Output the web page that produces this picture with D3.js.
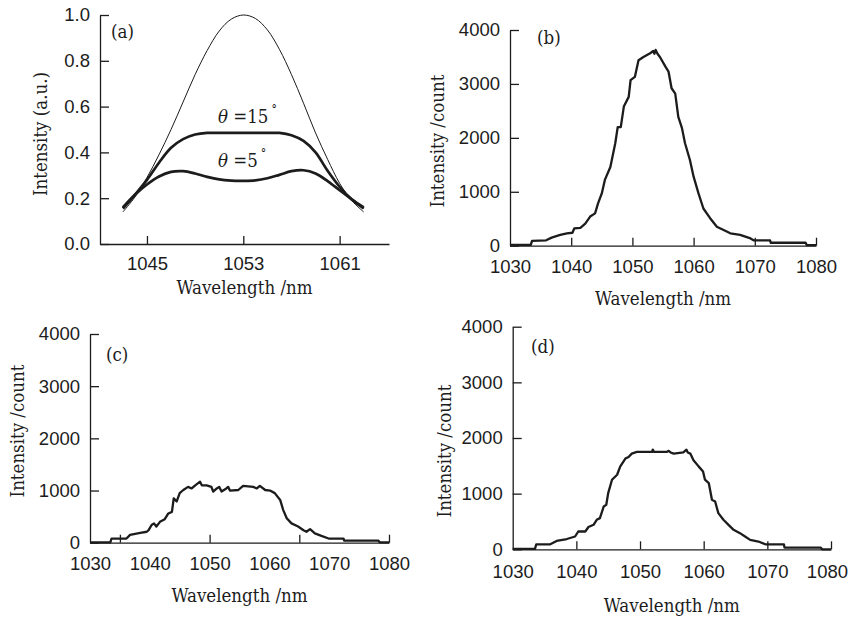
<!DOCTYPE html>
<html><head><meta charset="utf-8">
<script src="https://cdn.jsdelivr.net/npm/d3@7"></script>
<style>
body{margin:0;background:#fff;}
svg{display:block;font-family:"DejaVu Serif Condensed","DejaVu Serif",serif;font-stretch:condensed;}
</style></head><body>
<svg id="chart" width="849" height="617"></svg>
<script>
// ---------- Panel (a) data ----------
const aWavelength = [1043,1044,1045,1046,1047,1048,1049,1050,1051,1052,1053,1054,1055,1056,1057,1058,1059,1060,1061,1062,1063];
const aReference  = [0.14,0.205,0.29,0.39,0.50,0.62,0.74,0.845,0.93,0.982,1.0,0.985,0.935,0.85,0.74,0.615,0.485,0.37,0.265,0.19,0.14];
const aTheta15    = [0.155,0.215,0.28,0.355,0.42,0.458,0.478,0.485,0.485,0.485,0.485,0.485,0.485,0.485,0.475,0.45,0.40,0.32,0.25,0.195,0.155];
const aTheta5     = [0.16,0.215,0.26,0.295,0.315,0.318,0.308,0.293,0.282,0.277,0.276,0.278,0.287,0.302,0.318,0.322,0.308,0.275,0.235,0.195,0.16];
const aXTicks = [1045,1053,1061];
const aYTicks = [0,0.2,0.4,0.6,0.8,1.0];

// ---------- Panels (b)(c)(d) data ----------
const bWavelength = [1030,1033.4,1033.6,1035.9,1036.8,1038.2,1039.3,1040.2,1040.5,1041.5,1042.3,1043.1,1043.9,1044.4,1045,1045.5,1046.4,1047.2,1047.6,1048.1,1048.6,1049.4,1049.7,1050.4,1051,1051.8,1052.9,1053.4,1053.6,1053.8,1054.1,1054.5,1055.4,1055.9,1056.4,1057,1057.5,1058.1,1058.6,1059.4,1060,1060.8,1061.6,1062.7,1063.8,1064.9,1066,1067.6,1069.3,1069.8,1072.5,1072.6,1078.3,1078.5,1080];
const bCount = [15,15,90,100,150,200,230,240,320,330,410,540,600,790,970,1220,1460,1900,2200,2200,2580,2760,3070,3130,3440,3500,3570,3610,3560,3630,3560,3500,3320,3230,2920,2820,2390,2180,1900,1590,1280,970,690,510,350,290,230,200,135,100,100,55,55,10,10];

const cWavelength = [1030,1033.4,1033.6,1036.1,1036.7,1038.4,1039.5,1039.8,1040.3,1040.7,1041.1,1041.7,1042.5,1043.1,1043.7,1044,1044.5,1045,1045.6,1046.4,1047,1047.6,1048.4,1048.7,1049.5,1050.3,1050.6,1051.2,1051.6,1052,1052.8,1053.1,1053.4,1054.8,1055.6,1057.3,1057.9,1058.4,1059.3,1060.1,1060.9,1061.8,1062.3,1062.9,1063.7,1064.8,1065.7,1066.2,1066.8,1067.6,1068.7,1069.9,1072.4,1072.5,1078.2,1078.5,1080];
const cCount = [8,8,80,80,150,190,210,240,340,370,310,400,450,560,590,850,790,950,1010,1070,1040,1100,1170,1100,1100,1070,980,1040,1070,980,1040,1070,1000,1010,1090,1070,1040,1090,1010,1000,950,820,630,470,370,310,240,210,260,180,130,80,80,40,40,5,5];

const dWavelength = [1030,1033.5,1033.7,1035.9,1036.9,1038.5,1039.8,1040.3,1041.4,1041.9,1042.7,1043.2,1043.7,1044.3,1044.7,1045,1045.6,1046.4,1046.9,1047.7,1048.2,1048.7,1049.5,1051.9,1052,1052.2,1054.2,1054.5,1054.8,1055.3,1056.8,1057.3,1057.5,1057.9,1058.4,1059.2,1059.9,1060.2,1060.8,1061.3,1061.8,1062.3,1063.1,1063.9,1064.7,1065.7,1066.5,1067.3,1068.6,1069.7,1072.6,1072.7,1078.4,1078.6,1080];
const dCount = [8,8,90,90,150,185,230,320,320,400,440,530,560,770,800,1010,1250,1340,1490,1630,1660,1720,1750,1750,1790,1750,1750,1770,1740,1720,1740,1790,1740,1720,1600,1490,1400,1250,1190,890,860,650,530,440,350,290,230,170,140,90,90,30,30,0,0];

const spectrumXLabels = [1030,1040,1050,1060,1070,1080];
const spectrumYTicks = [0,1000,2000,3000,4000];
const bXTicks = [1040,1050,1060,1070,1080];
const cXTicks = [1035,1050,1065,1080];
const dXTicks = [1040,1050,1060,1070,1080];

const xTitle = "Wavelength /nm";
const yTitleA = "Intensity (a.u.)";
const yTitleS = "Intensity /count";

// ---------- drawing ----------
const svg = d3.select("#chart");
svg.append("rect").attr("width",849).attr("height",617).attr("fill","#fff");
const INK = "#1c1c1c";
const FS = 18.5;

function zip(xs, ys){ const n=Math.min(xs.length, ys.length); return d3.range(n).map(i=>({x:xs[i], y:ys[i]})); }

function drawAxes(g, x, y, o){
  const [x0,x1] = x.range(), [y0,y1] = y.range();
  const ya = d3.axisLeft(y).tickValues(o.yTicks).tickSizeInner(-9).tickSizeOuter(0).tickPadding(o.yPad).tickFormat(o.yFmt);
  const yg = g.append("g").attr("transform",`translate(${x0},0)`).call(ya);
  const xm = d3.axisBottom(x).tickValues(o.xTickMarks).tickSizeInner(-8).tickSizeOuter(0).tickFormat("");
  const xg = g.append("g").attr("transform",`translate(0,${y0})`).call(xm);
  const xl = d3.axisBottom(x).tickValues(o.xLabels).tickSize(0).tickPadding(o.xPad).tickFormat(d3.format("d"));
  const xlg = g.append("g").attr("transform",`translate(0,${y0})`).call(xl);
  xlg.select(".domain").remove();
  [yg,xg,xlg].forEach(s=>{
    s.selectAll("path.domain").attr("stroke",INK).attr("stroke-width",1.3);
    s.selectAll(".tick line").attr("stroke",INK).attr("stroke-width",1.3);
    s.selectAll("text").attr("font-family",null).attr("font-size",FS).attr("fill",INK);
  });
  g.append("text").attr("x",(x0+x1)/2 + (o.xTitleDx||0)).attr("y",o.xTitleY).attr("text-anchor","middle")
    .attr("font-size",FS).attr("fill",INK).text(xTitle);
  g.append("text").attr("transform",`translate(${o.yTitleX},${o.yTitleY}) rotate(-90)`).attr("text-anchor","middle")
    .attr("font-size",FS).attr("fill",INK).text(o.yTitle);
  g.append("text").attr("x",o.tagX).attr("y",o.tagY).attr("font-size",FS).attr("fill",INK).text(o.tag);
}

// Panel (a)
(function(){
  const g = svg.append("g");
  const x = d3.scaleLinear().domain([1041.1,1065.1]).range([100,389]);
  const y = d3.scaleLinear().domain([0,1]).range([244,15]);
  drawAxes(g,x,y,{yTicks:aYTicks,yFmt:d3.format(".1f"),yPad:10,xTickMarks:aXTicks,xLabels:aXTicks,xPad:13,
    xTitleY:294,yTitle:yTitleA,yTitleX:47,yTitleY:134,tag:"(a)",tagX:111,tagY:38});
  const line = d3.line().x(d=>x(d.x)).y(d=>y(d.y)).curve(d3.curveCatmullRom.alpha(0.5));
  g.append("path").attr("d",line(zip(aWavelength,aReference))).attr("fill","none").attr("stroke",INK).attr("stroke-width",1);
  g.append("path").attr("d",line(zip(aWavelength,aTheta15))).attr("fill","none").attr("stroke",INK).attr("stroke-width",2.7);
  g.append("path").attr("d",line(zip(aWavelength,aTheta5))).attr("fill","none").attr("stroke",INK).attr("stroke-width",2.7);
  function thetaLabel(xp, yp, val){
    const t = g.append("text").attr("x",xp).attr("y",yp).attr("font-size",FS).attr("fill",INK);
    t.append("tspan").attr("font-style","italic").text("θ");
    t.append("tspan").text(" =" + val);
    t.append("tspan").attr("font-size",12).attr("dy",-9).attr("dx",3).text("°");
  }
  thetaLabel(218,123,"15");
  thetaLabel(218,167,"5");
})();

function spectrum(o, xs, ys){
  const g = svg.append("g");
  const x = d3.scaleLinear().domain([1030,1080]).range(o.xr);
  const y = d3.scaleLinear().domain([0,4000]).range(o.yr);
  drawAxes(g,x,y,{yTicks:spectrumYTicks,yFmt:d3.format("d"),yPad:10,xTickMarks:o.ticks,xLabels:spectrumXLabels,xPad:o.xPad,
    xTitleY:o.xTitleY,xTitleDx:o.xTitleDx,yTitle:yTitleS,yTitleX:o.yTitleX,yTitleY:o.yTitleY,tag:o.tag,tagX:o.tagX,tagY:o.tagY});
  const line = d3.line().x(d=>x(d.x)).y(d=>y(d.y));
  g.append("path").attr("d",line(zip(xs,ys))).attr("fill","none").attr("stroke",INK).attr("stroke-width",2.3).attr("stroke-linejoin","round");
}

spectrum({xr:[510,816],yr:[245.7,30],ticks:bXTicks,xPad:14,xTitleY:305,xTitleDx:0,yTitleX:444,yTitleY:141,tag:"(b)",tagX:537,tagY:44},bWavelength,bCount);
spectrum({xr:[90,389],yr:[542.7,334],ticks:cXTicks,xPad:14,xTitleY:602,xTitleDx:0,yTitleX:24,yTitleY:431,tag:"(c)",tagX:106,tagY:361},cWavelength,cCount);
spectrum({xr:[512.7,831],yr:[549.3,326.7],ticks:dXTicks,xPad:16,xTitleY:612,xTitleDx:0,yTitleX:451,yTitleY:451,tag:"(d)",tagX:531,tagY:353},dWavelength,dCount);

// keep texts inside the page
svg.selectAll("text").each(function(){
  const b = this.getBoundingClientRect();
  if (b.right > 848) {
    const el = d3.select(this);
    const tr = el.attr("transform") || "";
    el.attr("transform", tr + ` translate(${848 - b.right},0)`);
  }
});
</script>
</body></html>
